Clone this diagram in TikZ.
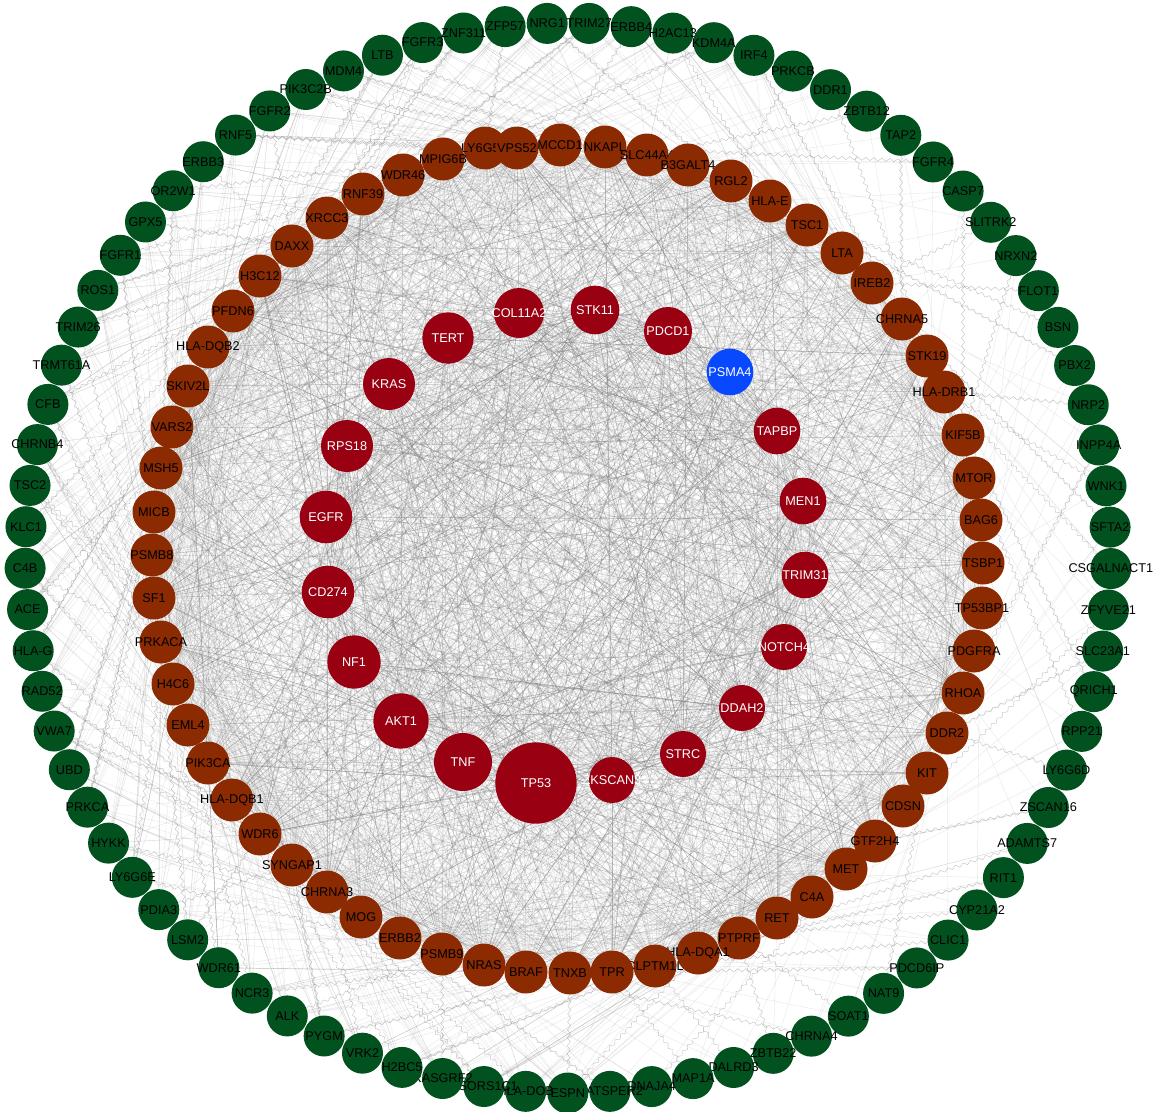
\documentclass[tikz,border=0pt]{standalone}
\usepackage{fontspec}
\setmainfont{Liberation Sans}
\usetikzlibrary{decorations.pathmorphing}
\definecolor{ngreen}{RGB}{2,82,32}
\definecolor{nbrown}{RGB}{140,42,2}
\definecolor{nred}{RGB}{153,0,17}
\definecolor{nblue}{RGB}{8,72,255}
\definecolor{edgegray}{RGB}{130,130,130}
\begin{document}
\begin{tikzpicture}[x=1pt,y=-1pt,
  gshape/.style={circle,minimum size=41pt,inner sep=0pt},
  bshape/.style={circle,minimum size=43pt,inner sep=0pt},
  rshape/.style={circle,inner sep=0pt},
  gfill/.style={gshape,fill=ngreen},
  bfill/.style={bshape,fill=nbrown},
  blab/.style={text=black,inner sep=0pt,font=\fontsize{12.7}{14}\selectfont},
  wlab/.style={text=white,inner sep=0pt,font=\fontsize{12.7}{14}\selectfont},
  edge/.style={draw=edgegray,opacity=.17,line width=.45pt},
  wavy/.style={draw=edgegray,opacity=.5,line width=.4pt,decorate,
    decoration={snake,amplitude=1.6pt,segment length=8pt}}]
\fill[white] (0,0) rectangle (1153,1111);
\useasboundingbox (0,0) rectangle (1153,1111);

% ---- node positions (named nodes) ----
\foreach \i in {1,...,81} {
  \pgfmathsetmacro\myang{92.2-(\i-1)*4.4444}
  \pgfmathsetmacro\mpx{568+543*cos(\myang)}
  \pgfmathsetmacro\mpy{558-535*sin(\myang)}
  \node[gshape] (g\i) at (\mpx,\mpy) {};
}
\foreach \px/\py [count=\i] in {485/148,517/148,560/145,605/147,647/155,688/165,731/181,770/201,807/225,842/253,872/283,902/319,927/356,944/392,963/435,974/478,981/520,983/563,982/608,974/651,963/693,947/733,927/773,903/806,875/841,846/869,812/897,777/918,739/938,698/953,655/966,612/972,570/973,526/972,484/965,442/954,400/938,361/917,327/892,292/865,260/834,232/800,208/763,188/725,173/684,161/642,154/598,152/555,154/512,161/468,172/427,188/386,208/347,233/311,260/276,292/246,327/218,363/194,403/175,443/159} {
  \node[bshape] (b\i) at (\px,\py) {};
}
\foreach \px/\py/\rr [count=\i] in {519/313/25,595/310/24.3,668/331/24,730/372/23.3,777/431/23.3,803/501/23.3,805/575/23.3,784/647/23,742/708/23,683/754/23,612/780/23,536/783/40.7,463/762/29,401/721/27.7,354/662/26.7,328/592/26.3,326/517/26.3,347/446/26,389/384/26,448/338/25.7} {
  \pgfmathsetmacro\dia{2*\rr}
  \node[rshape,minimum size=\dia pt] (r\i) at (\px,\py) {};
}

% ---- connectors ----
\pgfmathsetseed{12}
\foreach \i in {1,...,20} {
  \foreach \k in {1,...,100} {
    \pgfmathtruncatemacro\j{random(1,60)}
    \draw[edge] (r\i) -- (b\j);
  }
}
\foreach \k in {1,...,250} {
  \pgfmathtruncatemacro\ea{random(1,20)}
  \pgfmathtruncatemacro\eb{random(1,20)}
  \ifnum\ea=\eb\else\draw[edge] (r\ea) -- (r\eb);\fi
}
\foreach \k in {1,...,1600} {
  \pgfmathtruncatemacro\ea{random(1,60)}
  \pgfmathtruncatemacro\eb{random(1,60)}
  \ifnum\ea=\eb\else\draw[edge] (b\ea) -- (b\eb);\fi
}
\foreach \i in {1,...,81} {
  \pgfmathtruncatemacro\nk{(\i>41 || \i<7) ? 14 : 3}
  \foreach \k in {1,...,\nk} {
    \pgfmathtruncatemacro\j{mod(round(2.53+(\i-1)*0.741)+random(0,30)-15+600,60)+1}
    \draw[edge] (g\i) -- (b\j);
  }
  \pgfmathtruncatemacro\j{mod(round(2.53+(\i-1)*0.741)+random(0,14)-7+600,60)+1}
  \draw[wavy] (g\i) -- (b\j);
}
\foreach \i in {42,44,...,80} {
  \pgfmathtruncatemacro\j{mod(round(2.53+(\i-1)*0.741)+random(0,20)-10+600,60)+1}
  \draw[wavy] (g\i) -- (b\j);
}

% ---- node fills and labels ----
\foreach \nm [count=\i] in {NRG1,TRIM27,ERBB4,H2AC13,KDM4A,IRF4,PRKCB,DDR1,ZBTB12,TAP2,FGFR4,CASP7,SLITRK2,NRXN2,FLOT1,BSN,PBX2,NRP2,INPP4A,WNK1,SFTA2,CSGALNACT1,ZFYVE21,SLC23A1,QRICH1,RPP21,LY6G6D,ZSCAN16,ADAMTS7,RIT1,CYP21A2,CLIC1,PDCD6IP,NAT9,SOAT1,CHRNA4,ZBTB22,DALRD3,MAP1A,DNAJA4,CATSPER2,ESPN,HLA-DOB,PSORS1C1,RASGRF2,H2BC5,VRK2,PYGM,ALK,NCR3,WDR61,LSM2,PDIA3,LY6G6E,HYKK,PRKCA,UBD,VWA7,RAD52,HLA-G,ACE,C4B,KLC1,TSC2,CHRNB4,CFB,TRMT61A,TRIM26,ROS1,FGFR1,GPX5,OR2W1,ERBB3,RNF5,FGFR2,PIK3C2B,MDM4,LTB,FGFR3,ZNF311,ZFP57} {
  \node[gfill] (gf\i) at (g\i.center) {};
  \node[blab] (gl\i) at (g\i.center) {\nm};
}
\foreach \nm [count=\i] in {LY6G5C,VPS52,MCCD1,NKAPL,SLC44A4,B3GALT4,RGL2,HLA-E,TSC1,LTA,IREB2,CHRNA5,STK19,HLA-DRB1,KIF5B,MTOR,BAG6,TSBP1,TP53BP1,PDGFRA,RHOA,DDR2,KIT,CDSN,GTF2H4,MET,C4A,RET,PTPRF,HLA-DQA1,CLPTM1L,TPR,TNXB,BRAF,NRAS,PSMB9,ERBB2,MOG,CHRNA3,SYNGAP1,WDR6,HLA-DQB1,PIK3CA,EML4,H4C6,PRKACA,SF1,PSMB8,MICB,MSH5,VARS2,SKIV2L,HLA-DQB2,PFDN6,H3C12,DAXX,XRCC3,RNF39,WDR46,MPIG6B} {
  \node[bfill] (bf\i) at (b\i.center) {};
  \node[blab] (bl\i) at (b\i.center) {\nm};
}
\foreach \nm/\rr/\cc [count=\i] in {COL11A2/25/nred,STK11/24.3/nred,PDCD1/24/nred,PSMA4/23.3/nblue,TAPBP/23.3/nred,MEN1/23.3/nred,TRIM31/23.3/nred,NOTCH4/23/nred,DDAH2/23/nred,STRC/23/nred,ZKSCAN3/23/nred,TP53/40.7/nred,TNF/29/nred,AKT1/27.7/nred,NF1/26.7/nred,CD274/26.3/nred,EGFR/26.3/nred,RPS18/26/nred,KRAS/26/nred,TERT/25.7/nred} {
  \pgfmathsetmacro\dia{2*\rr}
  \node[rshape,fill=\cc,minimum size=\dia pt] (rf\i) at (r\i.center) {};
  \node[wlab] (rl\i) at (r\i.center) {\nm};
}
\end{tikzpicture}
\end{document}
